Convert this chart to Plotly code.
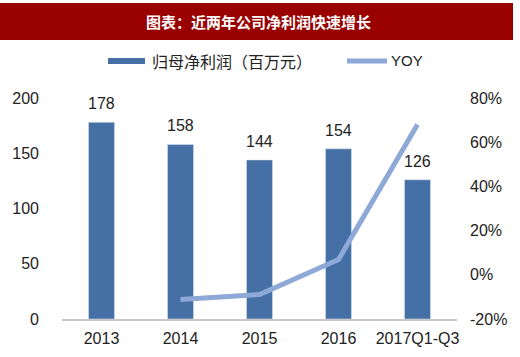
import plotly.graph_objects as go

categories = ["2013", "2014", "2015", "2016", "2017Q1-Q3"]
profit = [178, 158, 144, 154, 126]
yoy_cats = ["2014", "2015", "2016", "2017Q1-Q3"]
yoy = [-11.2, -8.9, 6.9, 68]
y1_ticks = [0, 50, 100, 150, 200]
y2_ticks = [-20, 0, 20, 40, 60, 80]
y2_labels = ["-20%", "0%", "20%", "40%", "60%", "80%"]

BAR = "#4570A6"
LINE = "#8EA8D8"
FONT = "Liberation Sans, Arial, sans-serif"
CJK = "Noto Sans CJK SC"

L, R, T, B = 62, 63, 98, 38
W, H = 520, 357
pw, ph = W - L - R, H - T - B


def px(x):
    return (x - L) / pw


def py(y):
    return (H - B - y) / ph


xpos = list(range(len(categories)))
yoy_x = [categories.index(c) for c in yoy_cats]

fig = go.Figure()
fig.add_trace(go.Bar(x=xpos, y=profit, marker_color=BAR, width=0.33,
                     name="归母净利润（百万元）", showlegend=False, yaxis="y",
                     hoverinfo="skip"))
fig.add_trace(go.Scatter(x=yoy_x, y=yoy, mode="lines", name="YOY",
                         line=dict(color=LINE, width=5), showlegend=False,
                         yaxis="y2", hoverinfo="skip"))

for xi, v in zip(xpos, profit):
    fig.add_annotation(x=xi, y=v, text=str(v), showarrow=False, yanchor="bottom",
                       yshift=8, font=dict(family=FONT, size=16, color="#222"))

shapes = [
    dict(type="rect", xref="paper", yref="paper", x0=px(0), x1=px(513),
         y0=py(40), y1=py(3), fillcolor="#990000", line=dict(width=0), layer="below"),
    dict(type="rect", xref="paper", yref="paper", x0=px(108), x1=px(145),
         y0=py(64), y1=py(58), fillcolor=BAR, line=dict(width=0)),
    dict(type="line", xref="paper", yref="paper", x0=px(347), x1=px(387),
         y0=py(61), y1=py(61), line=dict(color=LINE, width=5)),
]
annotations = [
    dict(xref="paper", yref="paper", x=px(258), y=py(22), text="<b>图表：近两年公司净利润快速增长</b>",
         font=dict(family=CJK, size=15, color="white")),
    dict(xref="paper", yref="paper", x=px(150), y=py(61), xanchor="left",
         text="归母净利润（百万元）", font=dict(family=CJK, size=16, color="#222")),
    dict(xref="paper", yref="paper", x=px(389), y=py(61), xanchor="left",
         text="YOY", font=dict(family=FONT, size=15, color="#222")),
]
for a in annotations:
    fig.add_annotation(showarrow=False, yanchor="middle", **a)

fig.update_layout(
    width=W, height=H, margin=dict(l=L, r=R, t=T, b=B),
    paper_bgcolor="white", plot_bgcolor="white", shapes=shapes,
    font=dict(family=FONT, size=16, color="#222"),
    xaxis=dict(range=[-0.5, 4.5], tickvals=xpos, ticktext=categories,
               showgrid=False, showline=True, linecolor="#c8c8c8", zeroline=False,
               linewidth=1.5, ticks="", ticklabelstandoff=4, tickfont=dict(size=16),
               automargin=False),
    yaxis=dict(range=[0, 200], tickvals=y1_ticks, showgrid=False, zeroline=False,
               showline=False, ticklabelstandoff=22, tickfont=dict(size=16),
               automargin=False),
    yaxis2=dict(range=[-20, 80], tickvals=y2_ticks, ticktext=y2_labels, overlaying="y",
                side="right", showgrid=False, zeroline=False, showline=False,
                ticklabelstandoff=12, tickfont=dict(size=16), automargin=False),
)

fig.write_html("out.html", config={"displayModeBar": False},
               post_script="document.body.style.margin='0';")
